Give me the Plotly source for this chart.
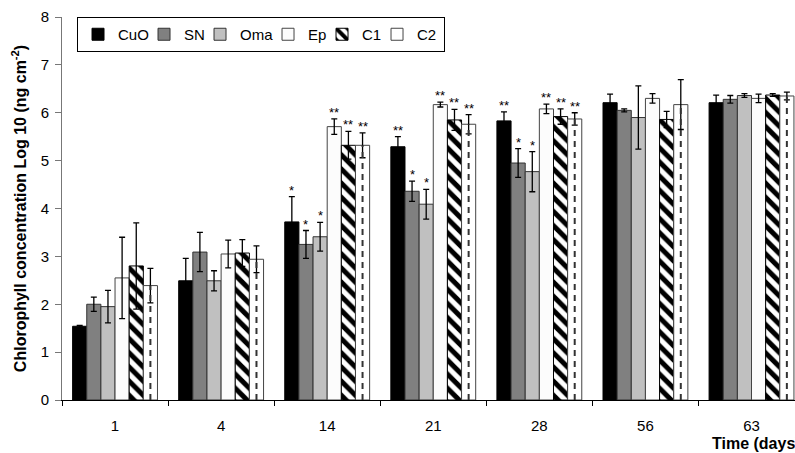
import plotly.graph_objects as go

days = ["1", "4", "14", "21", "28", "56", "63"]
series = ["CuO", "SN", "Oma", "Ep", "C1", "C2"]

cuo = [1.54, 2.49, 3.72, 5.29, 5.83, 6.21, 6.21]
cuo_err = [0.02, 0.47, 0.53, 0.21, 0.19, 0.18, 0.16]
sn = [2.00, 3.09, 3.25, 4.36, 4.95, 6.05, 6.28]
sn_err = [0.15, 0.41, 0.29, 0.21, 0.30, 0.03, 0.08]
oma = [1.95, 2.49, 3.41, 4.09, 4.77, 5.90, 6.36]
oma_err = [0.34, 0.21, 0.30, 0.31, 0.42, 0.66, 0.04]
ep = [2.55, 3.05, 5.71, 6.17, 6.08, 6.30, 6.30]
ep_err = [0.85, 0.29, 0.16, 0.05, 0.10, 0.10, 0.09]
c1 = [2.80, 3.07, 5.32, 5.85, 5.92, 5.86, 6.37]
c1_err = [0.90, 0.28, 0.29, 0.22, 0.16, 0.17, 0.03]
c2 = [2.39, 2.94, 5.32, 5.76, 5.87, 6.17, 6.35]
c2_err = [0.36, 0.28, 0.26, 0.20, 0.13, 0.52, 0.08]

sig_cuo = ["", "", "*", "**", "**", "", ""]
sig_sn = ["", "", "*", "*", "*", "", ""]
sig_oma = ["", "", "*", "*", "*", "", ""]
sig_ep = ["", "", "**", "**", "**", "", ""]
sig_c1 = ["", "", "**", "**", "**", "", ""]
sig_c2 = ["", "", "**", "**", "**", "", ""]

values = [cuo, sn, oma, ep, c1, c2]
errors = [cuo_err, sn_err, oma_err, ep_err, c1_err, c2_err]
sigs = [sig_cuo, sig_sn, sig_oma, sig_ep, sig_c1, sig_c2]

FONT = "Liberation Sans, Arial, sans-serif"
BARGAP = 0.2
XRANGE = [-0.5, 6.41]

styles = [
    dict(color="#000000", line=dict(color="#000000", width=1)),
    dict(color="#808080", line=dict(color="#333333", width=1)),
    dict(color="#c0c0c0", line=dict(color="#333333", width=1)),
    dict(color="#fcfcfc", line=dict(color="#444444", width=1)),
    dict(color="#ffffff", line=dict(color="#000000", width=1),
         pattern=dict(shape="\\", fgcolor="#000000", bgcolor="#ffffff",
                      fgopacity=1, size=10, solidity=0.5, fillmode="replace")),
    dict(color="#ffffff", line=dict(color="#444444", width=1)),
]
# compact legend entry widths (px)
legend_widths = [21, 11, 23, 9, 10, 22]

fig = go.Figure()
for name, v, e, st, lw in zip(series, values, errors, styles, legend_widths):
    fig.add_trace(go.Bar(
        name=name, x=days, y=v,
        error_y=dict(type="data", array=e, visible=True, color="#000000",
                     thickness=1.3, width=3),
        marker=st, legendwidth=lw,
    ))

# dashed centre line in C2 bars (on overlaying numeric axis)
n = len(series)
w = (1 - BARGAP) / n
off_c2 = -(1 - BARGAP) / 2 + w * (n - 0.5)
dx, dy = [], []
for i, v in enumerate(c2):
    dx += [i + off_c2, i + off_c2, None]
    dy += [0, v, None]
fig.add_trace(go.Scatter(x=dx, y=dy, mode="lines", xaxis="x2",
                         line=dict(color="#333333", width=2, dash="6px,5px"),
                         showlegend=False, hoverinfo="skip"))

annotations = []
for k, (v, e, s) in enumerate(zip(values, errors, sigs)):
    off = -(1 - BARGAP) / 2 + w * (k + 0.5)
    for i in range(len(days)):
        if s[i]:
            annotations.append(dict(
                x=i + off, y=v[i] + e[i], xref="x2", yref="y",
                text=s[i], showarrow=False, yanchor="bottom", yshift=-3,
                font=dict(family=FONT, size=13, color="#000000")))

annotations.append(dict(
    x=(710 - 62) / 733, y=-(444 - 400) / 383, xref="paper", yref="paper",
    text="<b>Time (days)</b>", showarrow=False, xanchor="left", yanchor="middle",
    font=dict(family=FONT, size=16, color="#000000")))

fig.update_layout(
    width=795, height=453,
    margin=dict(l=62, r=0, t=17, b=53),
    paper_bgcolor="white", plot_bgcolor="white",
    barmode="group", bargap=BARGAP, bargroupgap=0,
    font=dict(family=FONT, size=15, color="#000000"),
    legend=dict(orientation="h", x=0.0205, y=1.0, xanchor="left", yanchor="top",
                bgcolor="white", bordercolor="#000000", borderwidth=1,
                font=dict(family=FONT, size=15), itemwidth=30,
                traceorder="normal"),
    xaxis=dict(type="category", range=XRANGE, showline=True, linecolor="#000000",
               linewidth=1, ticks="outside", tickson="boundaries", ticklen=5,
               tickcolor="#000000", showgrid=False, zeroline=False,
               ticklabelstandoff=12,
               tickfont=dict(family=FONT, size=15)),
    xaxis2=dict(overlaying="x", range=XRANGE, visible=False),
    yaxis=dict(range=[0, 8], dtick=1, showline=True, linecolor="#777777",
               linewidth=1, ticks="outside", ticklen=6, tickcolor="#777777",
               showgrid=False, zeroline=False, ticklabelstandoff=3,
               tickfont=dict(family=FONT, size=15),
               title=dict(text="<b>Chlorophyll concentration Log 10 (ng cm<sup>-2</sup>)</b>",
                          font=dict(family=FONT, size=16), standoff=10)),
    annotations=annotations,
    showlegend=True,
)

fig.write_html("out.html")
